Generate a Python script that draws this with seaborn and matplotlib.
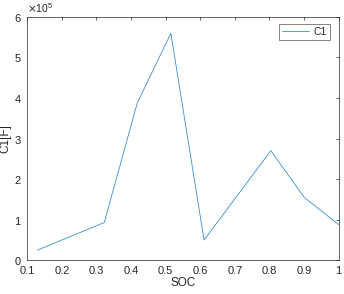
import matplotlib
matplotlib.use("Agg")
import matplotlib.pyplot as plt
import seaborn as sns
import pandas as pd

# Werte
soc = [0.129, 0.3225, 0.418, 0.515, 0.611, 0.804, 0.9006, 1.0]
c1 = [2.5e4, 9.3e4, 3.88e5, 5.59e5, 5.0e4, 2.70e5, 1.55e5, 8.8e4]

df = pd.DataFrame({"SOC": soc, "C1": c1})

sns.set_style("white")
plt.rcParams["font.family"] = ["Liberation Sans", "DejaVu Sans"]
plt.rcParams.update({
    "font.size": 8,
    "xtick.direction": "in",
    "ytick.direction": "in",
    "xtick.major.size": 2.5,
    "ytick.major.size": 2.5,
    "xtick.major.width": 0.5,
    "ytick.major.width": 0.5,
    "xtick.color": "#262626",
    "ytick.color": "#262626",
    "xtick.top": True,
    "ytick.right": True,
})

fig = plt.figure(figsize=(3.44, 2.94), dpi=100)
ax = fig.add_axes([0.0794, 0.1146, 0.905, 0.8286])

sns.lineplot(data=df, x="SOC", y="C1", color="#3a8fd0", linewidth=0.6,
             label="C1", ax=ax)

ax.set_xlim(0.1, 1.0)
ax.set_ylim(0, 6e5)
ax.set_xticks([0.1, 0.2, 0.3, 0.4, 0.5, 0.6, 0.7, 0.8, 0.9, 1.0])
ax.set_xticklabels(["0.1", "0.2", "0.3", "0.4", "0.5", "0.6", "0.7", "0.8", "0.9", "1"])
ax.set_yticks([0, 1e5, 2e5, 3e5, 4e5, 5e5, 6e5])
ax.ticklabel_format(axis="y", style="sci", scilimits=(0, 0), useMathText=True)
ax.yaxis.get_offset_text().set_fontsize(7.5)
ax.tick_params(axis="x", labelsize=8, pad=4, labelcolor="#262626")
ax.tick_params(axis="y", labelsize=8, pad=4, labelcolor="#262626")

ax.set_xlabel("SOC", fontsize=8.5, color="#262626", labelpad=1)
ax.set_ylabel("C1[F]", fontsize=8.5, color="#262626", labelpad=2)

for s in ax.spines.values():
    s.set_color("#262626")
    s.set_linewidth(0.5)

leg = ax.legend(loc="upper right", fontsize=7.5, frameon=True, fancybox=False,
                handlelength=2.6, handletextpad=0.4, borderpad=0.3,
                borderaxespad=0, bbox_to_anchor=(0.972, 0.97))
leg.get_frame().set_edgecolor("#262626")
leg.get_frame().set_linewidth(0.5)

fig.savefig("out.png", dpi=100)
